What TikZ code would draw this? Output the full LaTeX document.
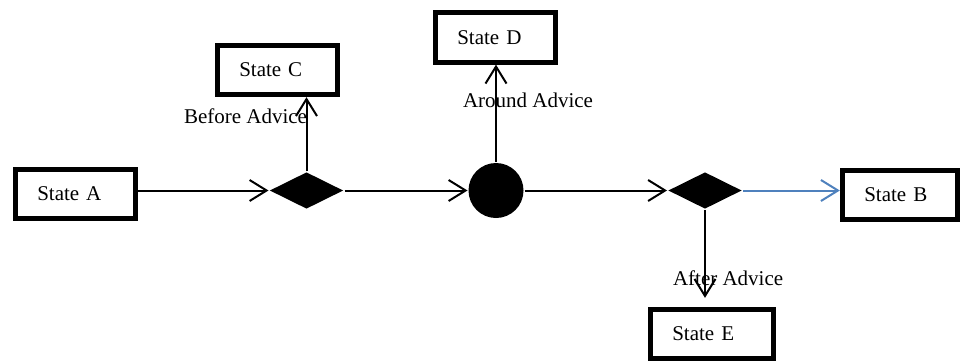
\documentclass[tikz,border=0pt]{standalone}
\usepackage{fontspec}
\setmainfont{Liberation Serif}
\usepackage{xcolor}
\usetikzlibrary{arrows.meta,shapes.geometric,positioning}
\definecolor{adviceblue}{RGB}{79,129,189}

\begin{document}
\begin{tikzpicture}[x=1pt,y=1pt,>={Straight Barb[length=17pt,width=21pt]},line width=2pt]
			\tikzstyle{state}=[draw, line width=4.8pt, minimum height=49.5pt, text width=76.5pt, inner xsep=22pt, align=left, font=\fontsize{21}{25}\selectfont]
			\tikzstyle{lbl}=[inner sep=0pt, anchor=base west, font=\fontsize{21}{25}\selectfont]
			\tikzstyle{choice}=[diamond, fill, inner sep=0pt, minimum width=74pt, minimum height=37pt]
			\tikzstyle{around dot}=[circle, fill, inner sep=0pt, minimum size=55pt]
			\useasboundingbox (0,0) rectangle (960,360);

 					 \node[state] 			(A) at (75.5,166)     	{State A};
 					 \node[state] 			(C) at (277.5,290)     	{State C};
 					 \node[state] 			(D) at (495.5,322.5)   	{State D};
 					 \node[state, text width=71.5pt] (B) at (900,165) {State B};
 					 \node[state, text width=79.5pt] (E) at (712,26)  {State E};

 					 \node[choice] 			(d1) at (306.5,169.5) {};
 					 \node[around dot] 		(c1) at (496,169.5)   {};
 					 \node[choice] 			(d2) at (705,169.5)   {};

 					 \node[lbl] 			(before) at (183,237) {Before Advice};
 					 \node[lbl] 			(around) at (462,253) {Around Advice};
 					 \node[lbl] 			(after) at (672,75)   {After Advice};

					 \draw[->] (A.east |- d1) -- (d1);
					 \draw[->] (d1) -- (c1);
					 \draw[->] (c1) -- (d2);
					 \draw[->, adviceblue] (d2) -- (d2 -| B.west);
					 \draw[->] (d1) -- (d1 |- C.south);
					 \draw[->] (c1) -- (c1 |- D.south);
					 \draw[->, shorten >=9pt] (d2) -- (d2 |- E.north);
	\end{tikzpicture}
\end{document}
